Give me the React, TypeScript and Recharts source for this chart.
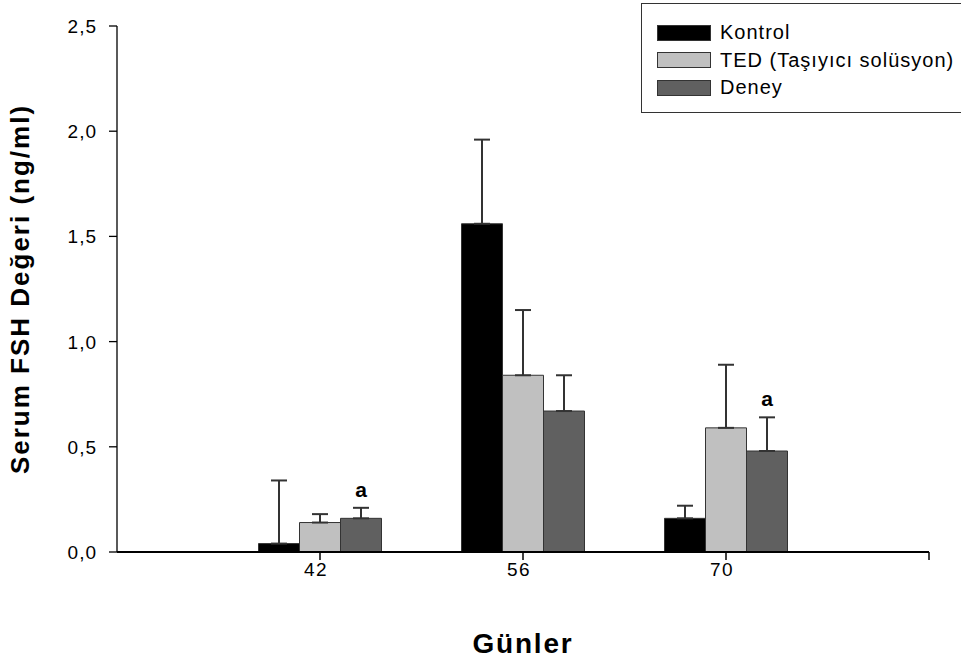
import React from 'react';
import { BarChart, Bar, XAxis, YAxis, ErrorBar, LabelList, Label } from 'recharts';

document.body.style.margin = '0';

const days = [42, 56, 70];
const kontrol = [0.04, 1.56, 0.16];
const kontrolSem = [0.3, 0.4, 0.06];
const ted = [0.14, 0.84, 0.59];
const tedSem = [0.04, 0.31, 0.3];
const deney = [0.16, 0.67, 0.48];
const deneySem = [0.05, 0.17, 0.16];
const deneySig = ['a', '', 'a'];

const yTicks = [0, 0.5, 1, 1.5, 2, 2.5];
const xTicks = [42, 56, 70, 84];

const series = [
  { key: 'kontrol', name: 'Kontrol', fill: '#000000' },
  { key: 'ted', name: 'TED (Taşıyıcı solüsyon)', fill: '#c0c0c0' },
  { key: 'deney', name: 'Deney', fill: '#606060' },
];

const data = days.map((d, i) => ({
  day: d,
  kontrol: kontrol[i],
  kontrolErr: [0, kontrolSem[i]],
  ted: ted[i],
  tedErr: [0, tedSem[i]],
  deney: deney[i],
  deneyErr: [0, deneySem[i]],
  sig: deneySig[i],
}));

const FONT = '"Liberation Sans", Arial, Helvetica, sans-serif';

const XTick = (props: any) => {
  const { x, y, payload } = props;
  if (payload.value === 84) return null;
  return (
    <text x={x - 4} y={y + 14} textAnchor="middle" fontFamily={FONT} fontSize={19} letterSpacing={1.5} fill="#000">
      {payload.value}
    </text>
  );
};

const YTick = (props: any) => {
  const { x, y, payload } = props;
  return (
    <text x={x} y={y + 7} textAnchor="end" fontFamily={FONT} fontSize={19} letterSpacing={1} fill="#000">
      {payload.value.toFixed(1).replace('.', ',')}
    </text>
  );
};

const SigLabel = (props: any) => {
  const { x, y, width, height, index } = props;
  const mark = deneySig[index];
  if (!mark) return null;
  const pxPerUnit = height / deney[index];
  const top = y - deneySem[index] * pxPerUnit;
  return (
    <text x={x + width / 2} y={top - 11} textAnchor="middle" fontFamily={FONT} fontWeight="bold" fontSize={21} fill="#000">
      {mark}
    </text>
  );
};

const LegendBox = () => (
  <div
    style={{
      position: 'absolute',
      left: 641,
      top: 3,
      border: '1px solid #333',
      borderRight: 'none',
      width: 330,
      height: 110,
      boxSizing: 'border-box',
      padding: '15px 0 0 15px',
      background: '#fff',
    }}
  >
    {series.map((s) => (
      <div key={s.key} style={{ display: 'flex', alignItems: 'center', height: 27.5 }}>
        <div style={{ width: 54, height: 16, background: s.fill, border: '1px solid #333', boxSizing: 'border-box' }} />
        <span style={{ marginLeft: 9, fontFamily: FONT, fontSize: 20, letterSpacing: 1, color: '#000' }}>{s.name}</span>
      </div>
    ))}
  </div>
);

export default function App() {
  return (
    <div style={{ width: 961, height: 663, background: '#fff', position: 'relative', overflow: 'hidden' }}>
      <BarChart
        width={961}
        height={663}
        data={data}
        margin={{ top: 26, right: 32, left: 0, bottom: 0 }}
        barGap={0}
        barSize={41}
      >
        <XAxis
          dataKey="day"
          type="number"
          domain={[28, 84]}
          ticks={xTicks}
          height={111}
          tickSize={8}
          tick={<XTick />}
          axisLine={{ stroke: '#000', strokeWidth: 2 }}
          tickLine={{ stroke: '#000', strokeWidth: 1.5 }}
        >
          <Label
            value="Günler"
            position="insideBottom"
            offset={10}
            style={{ fontFamily: FONT, fontSize: 28, fontWeight: 'bold', letterSpacing: 1.8, fill: '#000' }}
          />
        </XAxis>
        <YAxis
          type="number"
          domain={[0, 2.5]}
          ticks={yTicks}
          width={117}
          tickSize={8}
          tickMargin={12}
          tick={<YTick />}
          axisLine={{ stroke: '#000', strokeWidth: 1.3 }}
          tickLine={{ stroke: '#000', strokeWidth: 1.3 }}
        >
          <Label
            value="Serum FSH Değeri (ng/ml)"
            angle={-90}
            position="insideLeft"
            offset={20}
            style={{ fontFamily: FONT, fontSize: 26, fontWeight: 'bold', letterSpacing: 2, fill: '#000', textAnchor: 'middle' }}
          />
        </YAxis>
        {series.map((s) => (
          <Bar key={s.key} dataKey={s.key} name={s.name} fill={s.fill} stroke="#333" strokeWidth={1} isAnimationActive={false}>
            <ErrorBar dataKey={`${s.key}Err`} width={8} stroke="#333" strokeWidth={2} direction="y" />
            {s.key === 'deney' && <LabelList dataKey="sig" content={<SigLabel />} />}
          </Bar>
        ))}
      </BarChart>
      <LegendBox />
    </div>
  );
}
